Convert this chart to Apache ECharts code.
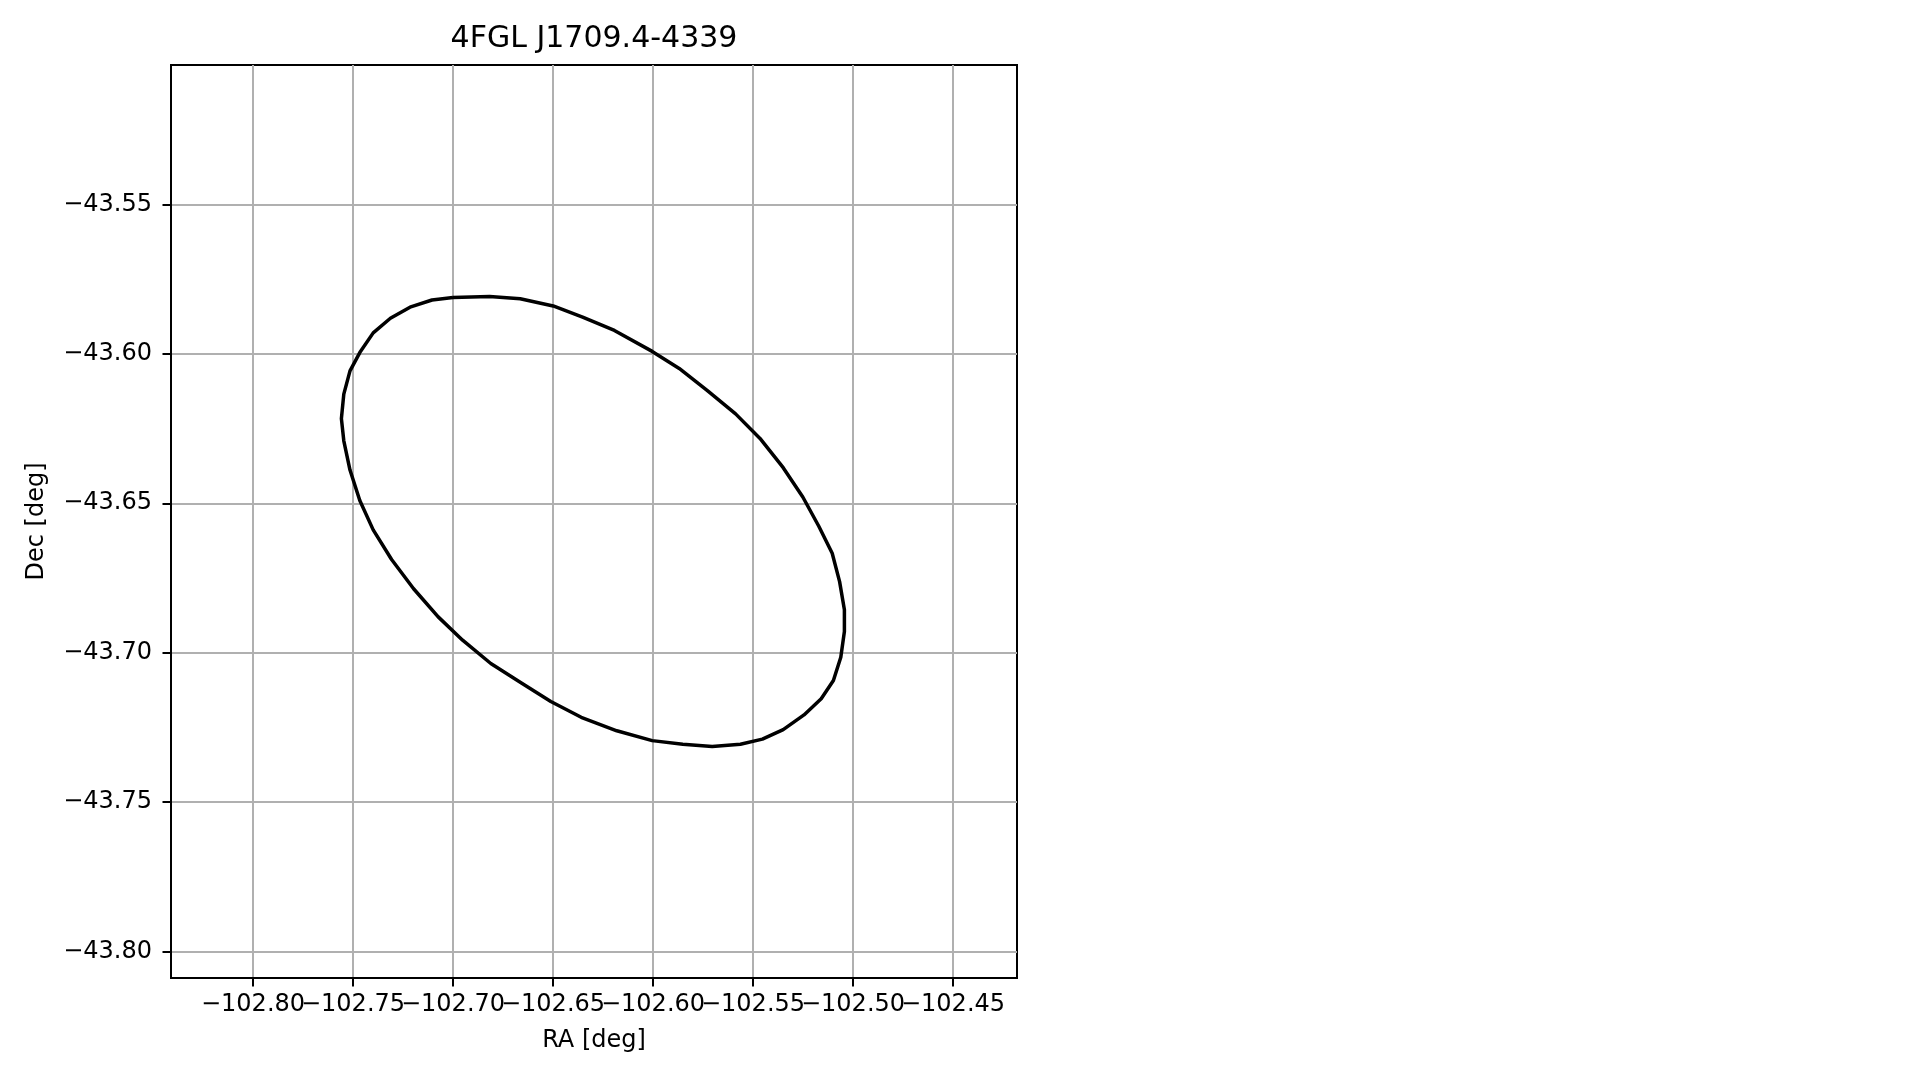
<!DOCTYPE html>
<html>
<head>
<meta charset="utf-8">
<script src="https://cdn.jsdelivr.net/npm/echarts@6/dist/echarts.min.js"></script>
<style>
html,body{margin:0;padding:0;background:#fff;}
#chart{width:1919px;height:1080px;}
</style>
</head>
<body>
<div id="chart"></div>
<script>
const title = '4FGL J1709.4-4339';
const xName = 'RA [deg]';
const yName = 'Dec [deg]';
const xTicks = [-102.80, -102.75, -102.70, -102.65, -102.60, -102.55, -102.50, -102.45];
const yTicks = [-43.80, -43.75, -43.70, -43.65, -43.60, -43.55];
const xRange = [-102.841, -102.418];
const yRange = [-43.8088, -43.5034];

// ellipse outline vertices (RA, Dec)
const ellipseRA = [
  -102.7000, -102.6817, -102.6664, -102.6499, -102.6352, -102.6193, -102.6004, -102.5869,
  -102.5728, -102.5587, -102.5465, -102.5349, -102.5251, -102.5171, -102.5104, -102.5067,
  -102.5043, -102.5043, -102.5061, -102.5098, -102.5159, -102.5245, -102.5349, -102.5453,
  -102.5563, -102.5704, -102.5851, -102.6004, -102.6181, -102.6359, -102.6511, -102.6658,
  -102.6811, -102.6952, -102.7074, -102.7197, -102.7307, -102.7399, -102.7466, -102.7515,
  -102.7546, -102.7558, -102.7546, -102.7515, -102.7466, -102.7399, -102.7313, -102.7215,
  -102.7105, -102.7000
];
const ellipseDec = [
  -43.5812, -43.5808, -43.5816, -43.5840, -43.5877, -43.5922, -43.5992, -43.6049,
  -43.6123, -43.6201, -43.6283, -43.6381, -43.6479, -43.6577, -43.6667, -43.6762,
  -43.6856, -43.6929, -43.7015, -43.7093, -43.7154, -43.7208, -43.7257, -43.7289,
  -43.7306, -43.7314, -43.7306, -43.7294, -43.7261, -43.7216, -43.7163, -43.7101,
  -43.7036, -43.6958, -43.6880, -43.6786, -43.6688, -43.6589, -43.6491, -43.6389,
  -43.6291, -43.6217, -43.6135, -43.6057, -43.5996, -43.5930, -43.5881, -43.5844,
  -43.5820, -43.5812
];

const FONT = 'DejaVu Sans';
const fmt = v => v.toFixed(2).replace('-', '\u2212');
// tick labels overlap each other (as in the original); split into two alternating sets
const xLabelsA = xTicks.filter((_, i) => i % 2 === 0);
const xLabelsB = xTicks.filter((_, i) => i % 2 === 1);

const gridBox = {left: 171, top: 65, width: 846, height: 913, outerBoundsMode: 'none', containLabel: false};
const labelStyle = {fontFamily: FONT, fontSize: 24, color: '#000'};

const chart = echarts.init(document.getElementById('chart'), null, {renderer: 'canvas'});
chart.setOption({
  animation: false,
  backgroundColor: '#ffffff',
  title: {
    text: title,
    left: 594,
    top: 24,
    textAlign: 'center',
    padding: 0,
    textStyle: {fontFamily: FONT, fontSize: 30, fontWeight: 'normal', color: '#000'}
  },
  grid: [
    Object.assign({show: true, borderColor: '#000', borderWidth: 2, backgroundColor: 'transparent'}, gridBox),
    Object.assign({show: false}, gridBox)
  ],
  xAxis: [{
    type: 'value', gridIndex: 0,
    min: xRange[0], max: xRange[1],
    name: xName, nameLocation: 'middle', nameGap: 51,
    nameTextStyle: labelStyle,
    axisLine: {show: true, onZero: false, lineStyle: {color: '#000', width: 2}},
    axisTick: {show: true, inside: false, length: 8.5, lineStyle: {color: '#000', width: 2}, customValues: xTicks},
    axisLabel: Object.assign({show: true, margin: 15, customValues: xLabelsA, formatter: fmt,
      showMinLabel: true, showMaxLabel: true}, labelStyle),
    splitLine: {show: true, lineStyle: {color: '#b0b0b0', width: 2}}
  }, {
    type: 'value', gridIndex: 1,
    min: xRange[0], max: xRange[1],
    axisLine: {show: false, onZero: false},
    axisTick: {show: false},
    axisLabel: Object.assign({show: true, margin: 15, customValues: xLabelsB, formatter: fmt,
      showMinLabel: true, showMaxLabel: true}, labelStyle),
    splitLine: {show: false}
  }],
  yAxis: [{
    type: 'value', gridIndex: 0,
    min: yRange[0], max: yRange[1],
    name: yName, nameLocation: 'middle', nameGap: 122, nameRotate: 90,
    nameTextStyle: labelStyle,
    axisLine: {show: true, onZero: false, lineStyle: {color: '#000', width: 2}},
    axisTick: {show: true, inside: false, length: 8.5, lineStyle: {color: '#000', width: 2}, customValues: yTicks},
    axisLabel: Object.assign({show: true, margin: 19, customValues: yTicks, formatter: fmt,
      showMinLabel: true, showMaxLabel: true}, labelStyle),
    splitLine: {show: true, lineStyle: {color: '#b0b0b0', width: 2}}
  }, {
    type: 'value', gridIndex: 1, show: false,
    min: yRange[0], max: yRange[1]
  }],
  series: [{
    type: 'line',
    xAxisIndex: 0, yAxisIndex: 0,
    data: ellipseRA.map((r, i) => [r, ellipseDec[i]]),
    showSymbol: false,
    symbol: 'none',
    smooth: false,
    clip: true,
    lineStyle: {color: '#000', width: 3.5, join: 'round'},
    z: 3
  }]
});
</script>
</body>
</html>
